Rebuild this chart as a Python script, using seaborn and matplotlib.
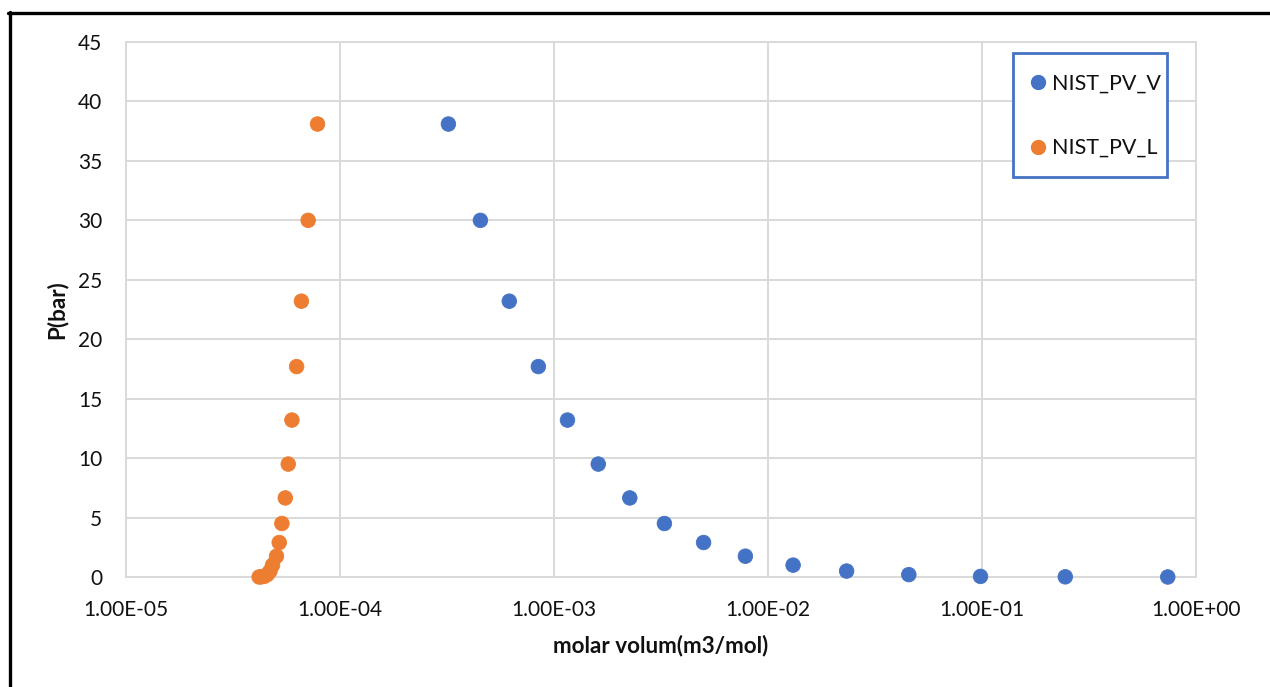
import numpy as np
import pandas as pd
import matplotlib
matplotlib.use("Agg")
import matplotlib.pyplot as plt
import seaborn as sns
from matplotlib.lines import Line2D
from matplotlib.patches import Rectangle
from matplotlib.ticker import FixedLocator, FuncFormatter, NullLocator

# ---- data ----
pressure_bar = [38.1, 30.0, 23.2, 17.7, 13.2, 9.5, 6.65, 4.5, 2.9, 1.75,
                1.0, 0.5, 0.2, 0.05, 0.015, 0.003]
vol_vapor = [3.21e-4, 4.53e-4, 6.18e-4, 8.45e-4, 1.156e-3, 1.61e-3, 2.26e-3,
             3.28e-3, 5.0e-3, 7.84e-3, 1.31e-2, 2.33e-2, 4.55e-2, 9.84e-2,
             2.45e-1, 7.38e-1]
vol_liquid = [7.85e-5, 7.1e-5, 6.6e-5, 6.27e-5, 5.96e-5, 5.73e-5, 5.55e-5,
              5.35e-5, 5.2e-5, 5.05e-5, 4.84e-5, 4.71e-5, 4.57e-5, 4.42e-5,
              4.28e-5, 4.19e-5]
series_names = ["NIST_PV_V", "NIST_PV_L"]
x_ticks = [1e-5, 1e-4, 1e-3, 1e-2, 1e-1, 1e0]
y_ticks = [0, 5, 10, 15, 20, 25, 30, 35, 40, 45]

df = pd.DataFrame({
    "V": vol_vapor + vol_liquid,
    "P": pressure_bar + pressure_bar,
    "series": [series_names[0]] * len(vol_vapor) + [series_names[1]] * len(vol_liquid),
})

sns.set_theme(style="white")
plt.rcParams["font.family"] = ["Lato", "DejaVu Sans"]

BLUE = "#4472C4"
ORANGE = "#ED7D31"
GRID = "#D9D9D9"
TXT = "#111111"

W, H = 1270, 687
fig = plt.figure(figsize=(W / 100, H / 100), dpi=100)
fig.patch.set_facecolor("white")
ax = fig.add_axes([126 / W, 1 - 577 / H, (1196 - 126) / W, (577 - 42) / H])

sns.scatterplot(data=df, x="V", y="P", hue="series",
                palette={series_names[0]: BLUE, series_names[1]: ORANGE},
                s=110, linewidth=0.6,
                edgecolor="face", ax=ax, legend=False, zorder=3, clip_on=False)

ax.set_xscale("log")
ax.set_xlim(x_ticks[0], x_ticks[-1])
ax.set_ylim(y_ticks[0], y_ticks[-1])
ax.xaxis.set_major_locator(FixedLocator(x_ticks))
ax.xaxis.set_minor_locator(NullLocator())
ax.xaxis.set_major_formatter(FuncFormatter(lambda v, p: f"{v:.2E}"))
ax.set_yticks(y_ticks)

ax.grid(True, color=GRID, linewidth=1.4)
ax.set_axisbelow(True)
for sp in ax.spines.values():
    sp.set_visible(True)
    sp.set_color(GRID)
    sp.set_linewidth(1.4)

ax.tick_params(axis="both", length=0, labelsize=15, colors=TXT)
ax.tick_params(axis="x", pad=16.5)
ax.tick_params(axis="y", pad=17)

ax.set_xlabel("molar volum(m3/mol)", fontsize=16.2, fontweight="bold", color=TXT)
ax.set_ylabel("P(bar)", fontsize=16.2, fontweight="bold", color=TXT)
ax.xaxis.set_label_coords((661 - 126) / (1196 - 126), -(635 - 577) / (577 - 42))
ax.yaxis.set_label_coords(-(126 - 68) / (1196 - 126), (577 - 310) / (577 - 42))

# legend box (drawn as a rectangle) and entries
fig.add_artist(Rectangle((1013 / W, 1 - 177 / H), (1167 - 1013) / W, (177 - 53) / H,
                         transform=fig.transFigure, facecolor="white",
                         edgecolor=BLUE, linewidth=2, zorder=5))
handles = [
    Line2D([0], [0], marker="o", linestyle="", markersize=10,
           markerfacecolor=BLUE, markeredgecolor=BLUE, label=series_names[0]),
    Line2D([0], [0], marker="o", linestyle="", markersize=10,
           markerfacecolor=ORANGE, markeredgecolor=ORANGE, label=series_names[1]),
]
leg = fig.legend(handles=handles, loc="upper left",
                 bbox_to_anchor=(1030.5 / W, 1 - 74 / H),
                 bbox_transform=fig.transFigure,
                 frameon=False, fontsize=15.5,
                 borderpad=0, labelspacing=2.05, handlelength=0.7,
                 handletextpad=0.3, borderaxespad=0)
leg.set_zorder(6)
for t in leg.get_texts():
    t.set_color(TXT)

# outer chart border (top and left visible in the reference)
fig.add_artist(Line2D([9.5 / W, 9.5 / W], [0, 1 - 12 / H], color="black",
                      linewidth=2.4, transform=fig.transFigure))
fig.add_artist(Line2D([8.3 / W, 1], [1 - 13 / H, 1 - 13 / H], color="black",
                      linewidth=2.4, transform=fig.transFigure))

fig.savefig("out.png", dpi=100, facecolor="white")
